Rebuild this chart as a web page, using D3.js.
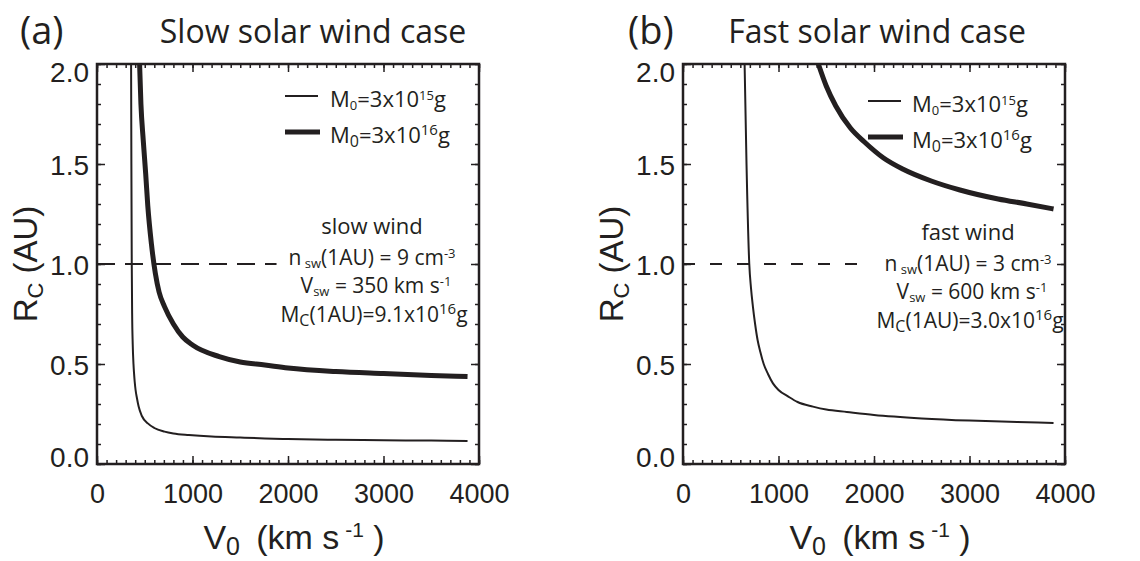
<!DOCTYPE html>
<html>
<head>
<meta charset="utf-8">
<script src="https://cdn.jsdelivr.net/npm/d3@7"></script>
<style>
  body { margin: 0; background: #fff; }
  svg text { fill: #231f20; }
  .tick line, .domain { stroke: #231f20; }
</style>
</head>
<body>
<div id="chart"></div>
<script>
// Figure size
var svgWidth = 1140;
var svgHeight = 561;

// Axis ranges and tick labels
var xDomain = [0, 4000];
var yDomain = [0, 2];
var xTicks = [0, 1000, 2000, 3000, 4000];
var yTicks = [0.0, 0.5, 1.0, 1.5, 2.0];

// (a) slow wind, M0 = 3x10^15 g  -- V0 (km/s), Rc (AU)
var slowThinV = [357, 360, 364, 368, 374, 382, 388, 395, 404, 418, 436, 470, 532, 600, 707, 800, 962, 1200, 1500, 1758, 2000, 2500, 3000, 3500, 3880];
var slowThinR = [2.0, 1.5, 1.0, 0.75, 0.6, 0.5, 0.453, 0.41, 0.37, 0.33, 0.287, 0.24, 0.203, 0.18, 0.162, 0.153, 0.145, 0.137, 0.132, 0.128, 0.125, 0.121, 0.119, 0.117, 0.115];
// (a) slow wind, M0 = 3x10^16 g
var slowThickV = [446, 460, 484, 510, 532, 570, 611, 650, 707, 800, 898, 1000, 1280, 1500, 1758, 2000, 2500, 3000, 3500, 3880];
var slowThickR = [2.0, 1.8, 1.62, 1.45, 1.29, 1.1, 0.953, 0.86, 0.787, 0.7, 0.635, 0.595, 0.537, 0.51, 0.495, 0.48, 0.462, 0.452, 0.443, 0.437];
// (b) fast wind, M0 = 3x10^15 g
var fastThinV = [645, 665, 694, 712, 732, 755, 781, 810, 845, 890, 942, 1000, 1103, 1200, 1361, 1500, 1716, 2000, 2500, 3000, 3500, 3880];
var fastThinR = [2.0, 1.5, 1.0, 0.88, 0.787, 0.7, 0.62, 0.56, 0.5, 0.45, 0.403, 0.37, 0.337, 0.31, 0.287, 0.272, 0.26, 0.245, 0.228, 0.217, 0.21, 0.205];
// (b) fast wind, M0 = 3x10^16 g
var fastThickV = [1417, 1500, 1600, 1753, 1900, 2100, 2300, 2600, 2900, 3300, 3600, 3880];
var fastThickR = [2.0, 1.89, 1.79, 1.68, 1.61, 1.53, 1.475, 1.415, 1.37, 1.325, 1.3, 1.275];

// Rc = 1 AU reference line (dashed), end of the dashes in each panel
var refR = [1.0, 1.0];
var slowRefV = [0, 1880];
var fastRefV = [0, 1830];

var panels = [
  { left: 97, tag: '(a)', tagX: 20, title: 'Slow solar wind case', titleX: 313,
    wind: 'slow wind', n: '9', v: '350', mc: '9.1', ref: [slowRefV, refR],
    thin: [slowThinV, slowThinR], thick: [slowThickV, slowThickR], dash: '18,10',
    leg: { x: 285, y: 96, tx: 330 }, note: { x: 372, y: 234 } },
  { left: 683, tag: '(b)', tagX: 628, title: 'Fast solar wind case', titleX: 877,
    wind: 'fast wind', n: '3', v: '600', mc: '3.0', ref: [fastRefV, refR],
    thin: [fastThinV, fastThinR], thick: [fastThickV, fastThickR], dash: '12,15',
    leg: { x: 868, y: 101, tx: 912 }, note: { x: 968, y: 240 } }
];

var top0 = 64;
var boxW = 382;
var boxH = 400;
var ink = '#231f20';
var helv = '"Liberation Sans", Arial, sans-serif';
var myriad = '"Open Sans", "Noto Sans", sans-serif';

var svg = d3.select('#chart')
  .append('svg')
  .attr('width', svgWidth)
  .attr('height', svgHeight);

function pairs(arr) {
  return arr[0].map((v, i) => [v, arr[1][i]]);
}

// text with sub / superscripts: parts = [[text, 'n'|'sub'|'sup', size]]
function richText(g, x, y, anchor, font, size, parts) {
  var t = g.append('text')
    .attr('x', x).attr('y', y)
    .attr('text-anchor', anchor)
    .style('font-family', font)
    .style('font-size', size + 'px');
  parts.forEach(function (p) {
    var s = t.append('tspan').text(p[0]);
    if (p[1] == 'sub') s.attr('baseline-shift', '-25%').style('font-size', (p[2] || size * 0.6) + 'px');
    if (p[1] == 'sup') s.attr('baseline-shift', '55%').style('font-size', (p[2] || size * 0.6) + 'px');
  });
  return t;
}

function drawPanel(p) {
  var x = d3.scaleLinear().domain(xDomain).range([0, boxW]);
  var y = d3.scaleLinear().domain(yDomain).range([boxH, 0]);

  var chart = svg.append('g')
    .attr('transform', `translate(${p.left} ${top0})`);

  // clip so curves stop at the frame
  var clipId = 'clip' + p.left;
  chart.append('clipPath').attr('id', clipId)
    .append('rect').attr('width', boxW).attr('height', boxH);

  // minor + major ticks on all four sides, pointing inward
  var minorX = d3.range(0, 4001, 100);
  var minorY = d3.range(0, 2.001, 0.1);
  var sides = [
    [d3.axisBottom(x), `translate(0 ${boxH})`, minorX, xTicks],
    [d3.axisTop(x), 'translate(0 0)', minorX, xTicks],
    [d3.axisLeft(y), 'translate(0 0)', minorY, yTicks],
    [d3.axisRight(y), `translate(${boxW} 0)`, minorY, yTicks]
  ];
  sides.forEach(function (s) {
    chart.append('g').attr('transform', s[1])
      .call(s[0].tickValues(s[2]).tickSizeInner(-4).tickSizeOuter(0).tickFormat(''))
      .call(g => g.select('.domain').remove())
      .selectAll('line').attr('stroke-width', 1.5);
    chart.append('g').attr('transform', s[1])
      .call(s[0].tickValues(s[3]).tickSizeInner(-8).tickSizeOuter(0).tickFormat(''))
      .call(g => g.select('.domain').remove())
      .selectAll('line').attr('stroke-width', 1.5);
  });

  // tick labels
  chart.append('g')
    .attr('transform', `translate(0 ${boxH})`)
    .call(d3.axisBottom(x).tickValues(xTicks).tickSize(0).tickPadding(20).tickFormat(d3.format('d')))
    .call(g => g.select('.domain').remove())
    .selectAll('text')
    .style('font-family', helv).style('font-size', '27px');

  chart.append('g')
    .call(d3.axisLeft(y).tickValues(yTicks).tickSize(0).tickPadding(8).tickFormat(d3.format('.1f')))
    .call(g => g.select('.domain').remove())
    .selectAll('text')
    .style('font-family', helv).style('font-size', '28px')
    .attr('dy', d => d == 2 ? '0.62em' : d == 0 ? '0.08em' : '0.36em');

  // frame
  chart.append('rect')
    .attr('width', boxW).attr('height', boxH)
    .attr('fill', 'none').attr('stroke', ink).attr('stroke-width', 2.5);

  var line = d3.line()
    .x(d => x(d[0]))
    .y(d => y(d[1]))
    .curve(d3.curveMonotoneX);

  var curves = chart.append('g').attr('clip-path', `url(#${clipId})`);

  // 1 AU dashed line
  curves.append('path')
    .datum(pairs(p.ref))
    .attr('d', d3.line().x(d => x(d[0])).y(d => y(d[1])))
    .attr('fill', 'none').attr('stroke', ink)
    .attr('stroke-width', 2).attr('stroke-dasharray', p.dash);

  curves.append('path')
    .datum(pairs(p.thin))
    .attr('d', line)
    .attr('fill', 'none').attr('stroke', ink).attr('stroke-width', 2);

  curves.append('path')
    .datum(pairs(p.thick))
    .attr('d', line)
    .attr('fill', 'none').attr('stroke', ink).attr('stroke-width', 5);

  // legend
  var leg = svg.append('g').attr('transform', `translate(${p.leg.x} ${p.leg.y})`);
  leg.append('line').attr('x1', 0).attr('x2', 33).attr('y1', 0).attr('y2', 0)
    .attr('stroke', ink).attr('stroke-width', 2);
  leg.append('line').attr('x1', 0).attr('x2', 35).attr('y1', 36).attr('y2', 36)
    .attr('stroke', ink).attr('stroke-width', 5);
  var dx = p.leg.tx - p.leg.x;
  richText(leg, dx, 11, 'start', myriad, 22, [['M', 'n'], ['0', 'sub', 13], ['=3x10', 'n'], ['15', 'sup', 13], ['g', 'n']]);
  richText(leg, dx, 47, 'start', myriad, 22, [['M', 'n'], ['0', 'sub', 16], ['=3x10', 'n'], ['16', 'sup', 15], ['g', 'n']]);

  // parameter note
  var note = svg.append('g').attr('transform', `translate(${p.note.x} ${p.note.y})`);
  richText(note, 0, 0, 'middle', myriad, 22, [[p.wind, 'n']]);
  richText(note, 0, 31, 'middle', myriad, 21, [['n', 'n'], [' sw', 'sub', 13], ['(1AU) = ' + p.n + ' cm', 'n'], ['-3', 'sup', 13]]);
  richText(note, 4, 59, 'middle', myriad, 21, [['V', 'n'], ['sw', 'sub', 13], [' = ' + p.v + ' km s', 'n'], ['-1', 'sup', 13]]);
  richText(note, 2, 88, 'middle', myriad, 21, [['M', 'n'], ['C', 'sub', 16], ['(1AU)=' + p.mc + 'x10', 'n'], ['16', 'sup', 15], ['g', 'n']]);

  // panel tag and title
  svg.append('text')
    .attr('x', p.tagX).attr('y', 44)
    .style('font-family', myriad).style('font-size', '38px')
    .text(p.tag);
  svg.append('text')
    .attr('x', p.titleX).attr('y', 43)
    .attr('text-anchor', 'middle')
    .style('font-family', myriad).style('font-size', '32px')
    .text(p.title);

  // axis titles
  richText(svg, p.left + boxW / 2 + 6, 549, 'middle', helv, 34,
    [['V', 'n'], ['0', 'sub', 25], ['\u2009 (km s', 'n'], [' -1', 'sup', 21], [' )', 'n']]);

  var yt = richText(svg, 0, 0, 'middle', helv, 33,
    [['R', 'n'], ['C', 'sub', 22], [' (AU)', 'n']]);
  yt.attr('transform', `translate(${p.left - 60} ${top0 + boxH / 2}) rotate(-90)`);
}

panels.forEach(drawPanel);
</script>
</body>
</html>
